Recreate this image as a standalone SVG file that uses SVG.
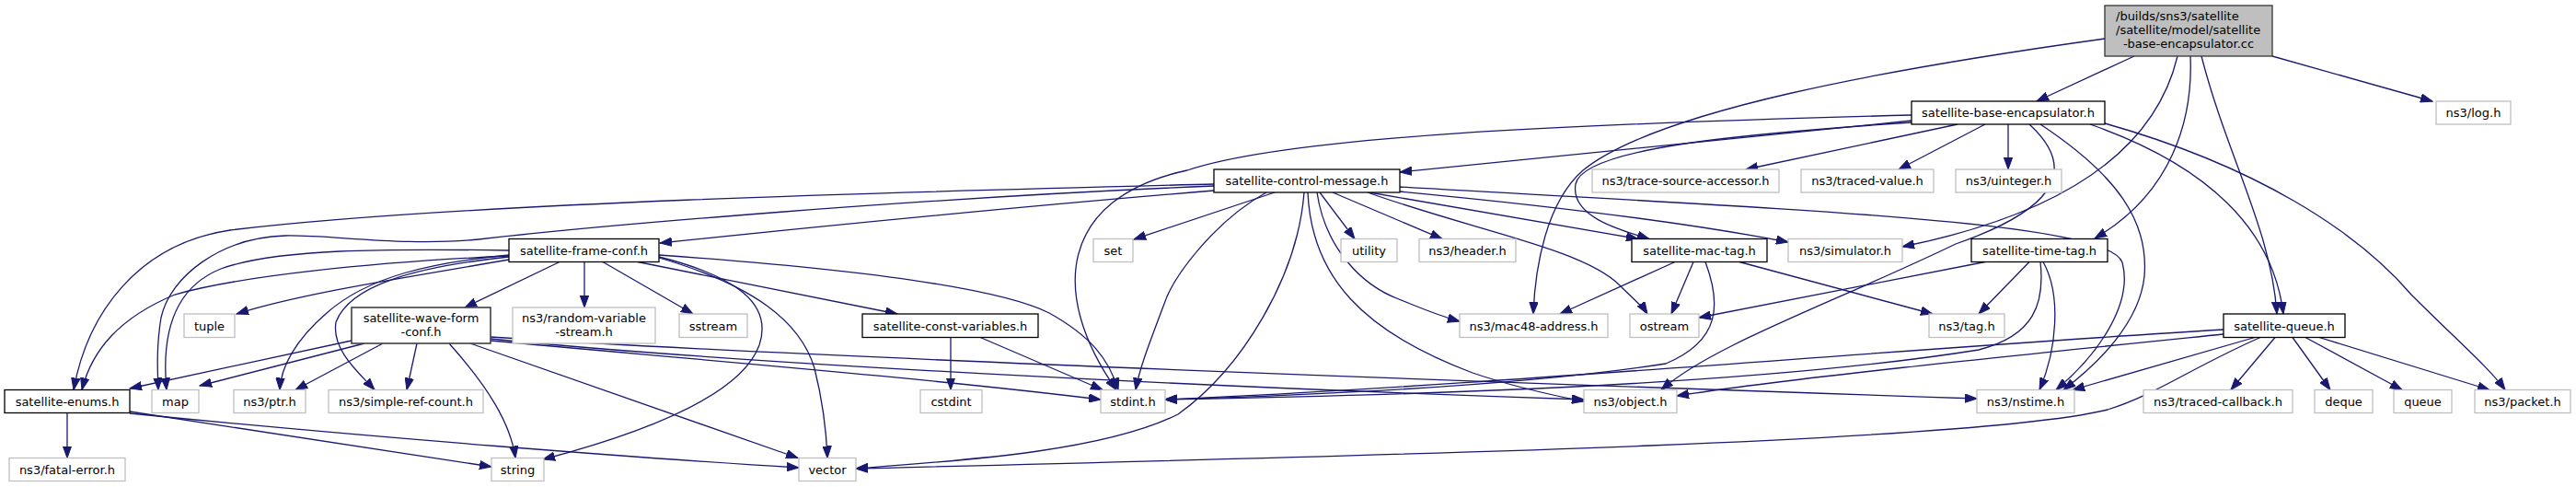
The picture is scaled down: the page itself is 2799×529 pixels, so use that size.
<svg xmlns="http://www.w3.org/2000/svg" width="2799" height="529" viewBox="0 0 2799 529">
<style>
rect.d{fill:#fff;stroke:#000;stroke-width:1.3}
rect.x{fill:#fff;stroke:#bfbfbf;stroke-width:1.3}
rect.r{fill:#bfbfbf;stroke:#333;stroke-width:1.3}
rect.w{fill:#fff;stroke:#404040;stroke-width:1.6}
text{font-family:"DejaVu Sans","Liberation Sans",sans-serif;font-size:13px;fill:#000;text-anchor:middle}
#edges path{fill:none;stroke:#191970;stroke-width:1.3;marker-end:url(#a)}
</style>
<defs>
<marker id="a" markerUnits="userSpaceOnUse" markerWidth="14" markerHeight="10" refX="13" refY="5" orient="auto"><path d="M0,0.3 L13,5 L0,9.7 z" fill="#191970" stroke="#191970" stroke-width="1"/></marker>
</defs>
<rect width="2799" height="529" fill="#fff"/>
<g id="edges">
<path d="M2319,61 L2213,110"/>
<path d="M2469,61 L2643,110"/>
<path d="M2366,61 C2340,170 2230,235 2067,268"/>
<path d="M2380,61 C2383,130 2360,210 2276,259"/>
<path d="M2392,61 C2420,170 2468,250 2474,341"/>
<path d="M2287,42 C2050,75 1800,120 1720,185 C1680,220 1668,290 1666,341"/>
<path d="M2077,131 L1521,187"/>
<path d="M2127,135 L1897,184"/>
<path d="M2157,135 L2063,184"/>
<path d="M2182,135 L2182,184"/>
<path d="M2077,125 C1700,135 1400,148 1290,185 C1150,215 1140,320 1213,423.5"/>
<path d="M2077,133 C1900,145 1720,160 1712,200 C1706,235 1760,250 1792,259.5"/>
<path d="M2205,135 C2265,190 2220,232 2125,265 C1990,330 1860,375 1805,423.5"/>
<path d="M2217,135 C2300,190 2335,240 2330,300 C2325,350 2280,395 2242,423.5"/>
<path d="M2271,135 C2400,180 2470,250 2481,341"/>
<path d="M2287,134 C2450,180 2560,250 2620,320 C2670,370 2705,400 2722,423.5"/>
<path d="M1319,207 C1100,225 900,245 717,264"/>
<path d="M1319,200 C1000,208 500,220 250,250 C150,265 95,340 80,423.5"/>
<path d="M1319,202 C1000,215 650,245 520,260 C440,268 360,255 310,256 C240,258 185,300 175,345 C170,375 171,400 172,423.5"/>
<path d="M1385,209 L1232,260"/>
<path d="M1434,209 L1472,259.5"/>
<path d="M1448,209 L1567,259.5"/>
<path d="M1376,209 C1320,240 1275,300 1265,330 C1250,370 1238,400 1234,423.5"/>
<path d="M1417,209 C1410,300 1350,400 1280,450 C1200,490 1050,500 930,509"/>
<path d="M1421,209 C1425,300 1480,360 1600,405 C1650,422 1690,430 1721,436"/>
<path d="M1431,209 C1440,270 1480,310 1520,325 C1545,335 1560,342 1586,349"/>
<path d="M1486,209 C1600,250 1720,270 1760,310 C1775,325 1785,333 1790,341"/>
<path d="M1488,209 L1780,259.5"/>
<path d="M1521,208 C1700,225 1850,245 1943,263"/>
<path d="M1521,203 C1950,228 2290,240 2306,285 C2318,330 2280,385 2234,423.5"/>
<path d="M608,284.5 L505,334"/>
<path d="M635,284.5 L635,334"/>
<path d="M655,284.5 L753,341"/>
<path d="M693,284.5 L975,341"/>
<path d="M716,277 C900,290 1080,310 1140,340 C1185,365 1205,390 1215,423.5"/>
<path d="M716,279 C800,300 840,330 825,375 C805,430 700,470 590,499"/>
<path d="M716,280 C820,310 870,350 885,400 C895,440 898,470 899,497.5"/>
<path d="M553,282 C450,300 330,318 257,341"/>
<path d="M553,277 C470,285 400,300 355,340 C320,370 305,400 304,423.5"/>
<path d="M553,279 C450,290 380,310 365,350 C360,380 390,405 407,423.5"/>
<path d="M553,272 C420,270 300,270 240,292 C190,312 175,360 181,423.5"/>
<path d="M553,278 C400,285 260,300 190,320 C130,345 100,380 89,423.5"/>
<path d="M382,370 L141,422"/>
<path d="M396,373 L217,419"/>
<path d="M416,373 L321,423.5"/>
<path d="M453,373 L442,423.5"/>
<path d="M488,373 C530,420 555,460 560,497.5"/>
<path d="M511,373 L867,497.5"/>
<path d="M533,370 C750,390 1000,410 1196,434"/>
<path d="M533,368 C800,395 1300,420 1721,434"/>
<path d="M533,366 C900,390 1700,418 2148,433"/>
<path d="M1033,366 L1033,423.5"/>
<path d="M1064,366 L1198,423.5"/>
<path d="M1820,284.5 L1695,341"/>
<path d="M1840,284.5 L1816,341"/>
<path d="M1853,284.5 C1870,330 1870,370 1810,395 C1650,420 1400,430 1266,434"/>
<path d="M1890,284.5 L2100,341"/>
<path d="M2157,284.5 L1846,345"/>
<path d="M2205,284.5 L2150,341"/>
<path d="M2217,284.5 C2222,330 2210,365 2150,380 C1900,420 1500,430 1266,434"/>
<path d="M2220,284.5 C2240,320 2235,380 2216,423.5"/>
<path d="M2416,358 C2050,380 1600,420 1266,434"/>
<path d="M2416,363 C2200,385 1950,410 1822,430"/>
<path d="M2450,366.5 L2252,423.5"/>
<path d="M2456,366.5 C2380,400 2340,430 2290,445 C2150,480 1500,495 930,509"/>
<path d="M2472,366.5 L2424,423.5"/>
<path d="M2491,366.5 L2532,423.5"/>
<path d="M2505,366.5 L2610,423.5"/>
<path d="M2520,366.5 L2705,423.5"/>
<path d="M73,448.5 L73,497.5"/>
<path d="M141,447 L534,507"/>
<path d="M141,449 C400,475 700,498 868,508"/>
</g>
<g id="root"><rect class="r" x="2287" y="6" width="182" height="55"/><text x="2299" y="22" style="text-anchor:start">/builds/sns3/satellite</text><text x="2299" y="37" style="text-anchor:start">/satellite/model/satellite</text><text x="2378" y="51.5">-base-encapsulator.cc</text></g>
<g id="n_be"><rect class="d" x="2077" y="110" width="210" height="25"/><text x="2182" y="127">satellite-base-encapsulator.h</text></g>
<g id="n_log"><rect class="x" x="2647" y="110" width="81" height="25"/><text x="2687.5" y="127">ns3/log.h</text></g>
<g id="n_cm"><rect class="d" x="1319" y="184" width="202" height="25"/><text x="1420" y="201">satellite-control-message.h</text></g>
<g id="n_tsa"><rect class="x" x="1730" y="184" width="203" height="25"/><text x="1831.5" y="201">ns3/trace-source-accessor.h</text></g>
<g id="n_tv"><rect class="x" x="1957" y="184" width="144" height="25"/><text x="2029" y="201">ns3/traced-value.h</text></g>
<g id="n_ui"><rect class="x" x="2125" y="184" width="115" height="25"/><text x="2182.5" y="201">ns3/uinteger.h</text></g>
<g id="n_fc"><rect class="d" x="553" y="259.5" width="163" height="25"/><text x="634.5" y="276.5">satellite-frame-conf.h</text></g>
<g id="n_set"><rect class="x" x="1188" y="259.5" width="43" height="25"/><text x="1209.5" y="276.5">set</text></g>
<g id="n_utility"><rect class="x" x="1457" y="259.5" width="61" height="25"/><text x="1487.5" y="276.5">utility</text></g>
<g id="n_header"><rect class="x" x="1542" y="259.5" width="105" height="25"/><text x="1594.5" y="276.5">ns3/header.h</text></g>
<g id="n_mt"><rect class="d" x="1773" y="259.5" width="147" height="25"/><text x="1846.5" y="276.5">satellite-mac-tag.h</text></g>
<g id="n_sim"><rect class="x" x="1943" y="259.5" width="124" height="25"/><text x="2005" y="276.5">ns3/simulator.h</text></g>
<g id="n_tt"><rect class="d" x="2142" y="259.5" width="148" height="25"/><text x="2216" y="276.5">satellite-time-tag.h</text></g>
<g id="n_tuple"><rect class="x" x="200" y="341" width="55" height="25.5"/><text x="227.5" y="358.5">tuple</text></g>
<g id="n_wf"><rect class="w" x="382" y="334" width="151" height="39"/><text x="457.5" y="350">satellite-wave-form</text><text x="457.5" y="365">-conf.h</text></g>
<g id="n_rvs"><rect class="x" x="557" y="334" width="155" height="39"/><text x="634.5" y="350">ns3/random-variable</text><text x="634.5" y="365">-stream.h</text></g>
<g id="n_sstream"><rect class="x" x="738" y="341" width="74" height="25.5"/><text x="775" y="358.5">sstream</text></g>
<g id="n_cv"><rect class="d" x="937" y="341" width="191" height="25.5"/><text x="1032.5" y="358.5">satellite-const-variables.h</text></g>
<g id="n_mac48"><rect class="x" x="1586" y="341" width="161" height="25.5"/><text x="1666.5" y="358.5">ns3/mac48-address.h</text></g>
<g id="n_ostream"><rect class="x" x="1771" y="341" width="75" height="25.5"/><text x="1808.5" y="358.5">ostream</text></g>
<g id="n_tag"><rect class="x" x="2096" y="341" width="82" height="25.5"/><text x="2137" y="358.5">ns3/tag.h</text></g>
<g id="n_q"><rect class="d" x="2416" y="341" width="132" height="25.5"/><text x="2482" y="358.5">satellite-queue.h</text></g>
<g id="n_enums"><rect class="d" x="5" y="423.5" width="136" height="25"/><text x="73" y="440.5">satellite-enums.h</text></g>
<g id="n_map"><rect class="x" x="165" y="423.5" width="51" height="25"/><text x="190.5" y="440.5">map</text></g>
<g id="n_ptr"><rect class="x" x="254" y="423.5" width="78" height="25"/><text x="293" y="440.5">ns3/ptr.h</text></g>
<g id="n_src"><rect class="x" x="357" y="423.5" width="168" height="25"/><text x="441" y="440.5">ns3/simple-ref-count.h</text></g>
<g id="n_cstdint"><rect class="x" x="1000" y="423.5" width="67" height="25"/><text x="1033.5" y="440.5">cstdint</text></g>
<g id="n_stdint"><rect class="x" x="1196" y="423.5" width="70" height="25"/><text x="1231" y="440.5">stdint.h</text></g>
<g id="n_object"><rect class="x" x="1721" y="423.5" width="101" height="25"/><text x="1771.5" y="440.5">ns3/object.h</text></g>
<g id="n_nstime"><rect class="x" x="2148" y="423.5" width="106" height="25"/><text x="2201" y="440.5">ns3/nstime.h</text></g>
<g id="n_tc"><rect class="x" x="2329" y="423.5" width="162" height="25"/><text x="2410" y="440.5">ns3/traced-callback.h</text></g>
<g id="n_deque"><rect class="x" x="2515" y="423.5" width="63" height="25"/><text x="2546.5" y="440.5">deque</text></g>
<g id="n_queue"><rect class="x" x="2601" y="423.5" width="63" height="25"/><text x="2632.5" y="440.5">queue</text></g>
<g id="n_packet"><rect class="x" x="2689" y="423.5" width="104" height="25"/><text x="2741" y="440.5">ns3/packet.h</text></g>
<g id="n_fatal"><rect class="x" x="10" y="497.5" width="126" height="25"/><text x="73" y="514.5">ns3/fatal-error.h</text></g>
<g id="n_string"><rect class="x" x="534" y="497.5" width="57" height="25"/><text x="562.5" y="514.5">string</text></g>
<g id="n_vector"><rect class="x" x="868" y="497.5" width="62" height="25"/><text x="899" y="514.5">vector</text></g>
</svg>
